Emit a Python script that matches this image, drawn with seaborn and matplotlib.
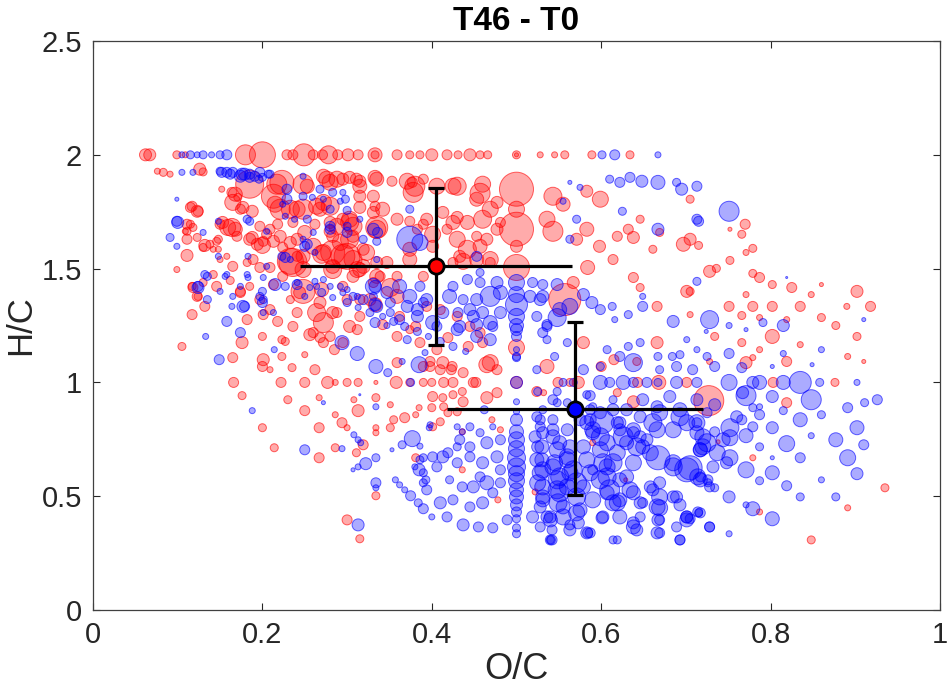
import matplotlib
matplotlib.use("Agg")
import matplotlib.pyplot as plt
import pandas as pd
import seaborn as sns

# (O/C, H/C, peak size)
red_points = [
    # H/C = 2 row
    (0.062, 2.0, 6), (0.067, 2.0, 6), (0.099, 2.0, 4), (0.109, 2.0, 3), (0.180, 2.0, 10), (0.200, 2.0, 13),
    (0.229, 2.0, 5), (0.236, 2.0, 5), (0.249, 2.0, 11), (0.260, 2.0, 5), (0.271, 2.0, 5), (0.278, 2.0, 9),
    (0.289, 2.0, 5), (0.301, 2.0, 6), (0.313, 2.0, 5), (0.333, 2.0, 7), (0.333, 2.0, 4), (0.359, 2.0, 5),
    (0.374, 2.0, 4), (0.386, 2.0, 4), (0.400, 2.0, 6), (0.418, 2.0, 5), (0.431, 2.0, 4), (0.445, 2.0, 6),
    (0.457, 2.0, 4), (0.466, 2.0, 4), (0.500, 2.0, 4), (0.500, 2.0, 2), (0.528, 2.0, 3), (0.545, 2.0, 3),
    (0.557, 2.0, 4), (0.589, 2.0, 4), (0.634, 2.0, 4),
    (0.076, 1.928, 3), (0.083, 1.923, 4), (0.091, 1.915, 3), (0.126, 1.937, 6), (0.130, 1.925, 4),
    # upper band
    (0.185, 1.871, 14), (0.223, 1.879, 12), (0.248, 1.871, 10), (0.276, 1.893, 8), (0.295, 1.893, 6),
    (0.311, 1.893, 6), (0.333, 1.901, 7), (0.353, 1.884, 5), (0.377, 1.879, 5), (0.390, 1.893, 5),
    (0.406, 1.862, 8), (0.430, 1.862, 9), (0.460, 1.871, 8), (0.500, 1.849, 17), (0.457, 1.831, 10),
    (0.380, 1.862, 10), (0.543, 1.818, 9), (0.555, 1.783, 7), (0.599, 1.805, 8), (0.583, 1.840, 6),
    (0.168, 1.827, 7), (0.213, 1.818, 12), (0.253, 1.862, 7), (0.280, 1.879, 8), (0.315, 1.884, 6),
    (0.165, 1.791, 8), (0.174, 1.761, 5), (0.188, 1.752, 6), (0.215, 1.783, 8), (0.221, 1.761, 10),
    (0.248, 1.761, 10), (0.272, 1.791, 8), (0.280, 1.774, 9), (0.303, 1.717, 8), (0.315, 1.769, 6),
    (0.333, 1.774, 5), (0.335, 1.681, 11), (0.359, 1.717, 6), (0.117, 1.774, 5), (0.124, 1.752, 5),
    (0.218, 1.695, 5), (0.236, 1.703, 5), (0.250, 1.659, 7), (0.262, 1.695, 5), (0.280, 1.703, 6),
    (0.307, 1.686, 9), (0.159, 1.681, 8), (0.168, 1.673, 7), (0.150, 1.695, 5),
    (0.115, 1.695, 4), (0.118, 1.681, 4), (0.109, 1.664, 3), (0.123, 1.637, 4), (0.111, 1.629, 5),
    (0.132, 1.602, 6), (0.148, 1.629, 4), (0.142, 1.585, 3), (0.111, 1.558, 6), (0.099, 1.496, 3),
    (0.152, 1.849, 3), (0.164, 1.835, 5), (0.171, 1.813, 4), (0.177, 1.769, 6), (0.217, 1.871, 10),
    (0.233, 1.761, 9), (0.264, 1.774, 8), (0.272, 1.906, 7), (0.288, 1.893, 8), (0.303, 1.901, 6),
    (0.315, 1.862, 7), (0.335, 1.893, 7), (0.315, 1.818, 6), (0.331, 1.818, 6), (0.342, 1.761, 7),
    (0.303, 1.703, 9), (0.288, 1.686, 8), (0.283, 1.642, 6), (0.307, 1.642, 6), (0.323, 1.571, 8),
    (0.300, 1.554, 13), (0.272, 1.571, 8), (0.260, 1.598, 8), (0.236, 1.527, 14), (0.248, 1.496, 8),
    (0.233, 1.615, 6), (0.221, 1.642, 6), (0.241, 1.629, 6), (0.209, 1.673, 5), (0.197, 1.686, 5),
    (0.164, 1.681, 9), (0.153, 1.703, 6), (0.170, 1.642, 5), (0.185, 1.629, 6), (0.194, 1.607, 6),
    (0.201, 1.620, 5), (0.115, 1.769, 5), (0.123, 1.752, 6), (0.111, 1.695, 5), (0.111, 1.664, 4),
    (0.130, 1.593, 4), (0.138, 1.607, 4), (0.146, 1.620, 4), (0.148, 1.585, 3), (0.158, 1.554, 3),
    (0.165, 1.510, 5), (0.182, 1.527, 4), (0.189, 1.540, 5), (0.197, 1.505, 5), (0.209, 1.505, 5),
    (0.118, 1.417, 5), (0.130, 1.439, 4), (0.124, 1.378, 4), (0.174, 1.395, 5), (0.185, 1.422, 4),
    (0.233, 1.364, 4), (0.244, 1.395, 6), (0.268, 1.351, 6), (0.283, 1.307, 6), (0.315, 1.496, 7),
    (0.307, 1.466, 6), (0.335, 1.527, 6), (0.315, 1.364, 5), (0.300, 1.364, 5), (0.283, 1.510, 7),
    (0.224, 1.466, 5), (0.213, 1.430, 5), (0.142, 1.474, 4), (0.150, 1.540, 3),
    (0.460, 1.717, 9), (0.442, 1.703, 7), (0.536, 1.717, 8), (0.543, 1.664, 10), (0.571, 1.629, 6),
    (0.583, 1.673, 7), (0.598, 1.598, 6), (0.619, 1.642, 5), (0.638, 1.637, 6), (0.661, 1.585, 4),
    (0.697, 1.607, 7), (0.669, 1.659, 4), (0.646, 1.717, 4), (0.632, 1.673, 5), (0.584, 1.505, 7),
    (0.614, 1.540, 5), (0.638, 1.461, 5), (0.646, 1.417, 4), (0.701, 1.400, 6), (0.567, 1.439, 6),
    (0.557, 1.364, 16),
    (0.371, 1.884, 8), (0.378, 1.835, 10), (0.425, 1.862, 8), (0.453, 1.805, 7), (0.477, 1.791, 6),
    (0.469, 1.761, 8), (0.481, 1.703, 5), (0.413, 1.747, 6), (0.425, 1.703, 7), (0.394, 1.717, 6),
    (0.383, 1.673, 5), (0.401, 1.651, 8), (0.430, 1.629, 8), (0.442, 1.585, 9), (0.457, 1.598, 7),
    (0.469, 1.540, 8), (0.374, 1.585, 7), (0.433, 1.554, 6),
    (0.500, 1.673, 17), (0.500, 1.505, 13), (0.500, 1.598, 6), (0.500, 1.761, 8),
    (0.374, 1.708, 5), (0.390, 1.695, 5), (0.401, 1.598, 6), (0.418, 1.673, 5), (0.430, 1.725, 6),
    (0.453, 1.642, 5), (0.465, 1.629, 6), (0.477, 1.673, 6), (0.437, 1.532, 8), (0.453, 1.540, 7),
    (0.469, 1.527, 5), (0.425, 1.527, 5), (0.374, 1.540, 7), (0.390, 1.466, 5), (0.347, 1.527, 6),
    (0.359, 1.466, 5), (0.339, 1.466, 5),
    # diagonal band
    (0.188, 1.637, 6), (0.200, 1.602, 8), (0.205, 1.651, 5), (0.213, 1.620, 6), (0.224, 1.593, 5),
    (0.241, 1.554, 5), (0.233, 1.532, 13), (0.248, 1.554, 7), (0.270, 1.563, 9), (0.283, 1.571, 12),
    (0.295, 1.554, 12), (0.307, 1.540, 9), (0.319, 1.510, 7), (0.335, 1.466, 7), (0.292, 1.615, 8),
    (0.319, 1.585, 6), (0.303, 1.629, 9), (0.283, 1.496, 9), (0.312, 1.496, 8), (0.280, 1.664, 6),
    (0.335, 1.673, 9), (0.331, 1.747, 6), (0.295, 1.717, 6), (0.268, 1.761, 7), (0.241, 1.761, 8),
    (0.248, 1.400, 12), (0.270, 1.408, 7), (0.264, 1.307, 9), (0.272, 1.263, 10), (0.241, 1.307, 5),
    (0.236, 1.246, 5), (0.209, 1.320, 5), (0.197, 1.364, 5), (0.174, 1.400, 5), (0.162, 1.448, 4),
    (0.146, 1.422, 5), (0.123, 1.378, 5), (0.117, 1.422, 4), (0.132, 1.334, 5), (0.117, 1.298, 5),
    (0.182, 1.276, 5), (0.201, 1.298, 5), (0.218, 1.268, 5), (0.256, 1.210, 6), (0.288, 1.307, 5),
    (0.303, 1.246, 6), (0.315, 1.290, 5), (0.295, 1.422, 5), (0.331, 1.439, 5), (0.351, 1.417, 9),
    (0.359, 1.378, 7), (0.327, 1.364, 6), (0.333, 1.342, 7),
    (0.394, 1.334, 5), (0.410, 1.320, 5), (0.430, 1.290, 5), (0.445, 1.246, 5), (0.457, 1.219, 5),
    (0.460, 1.175, 5), (0.500, 1.153, 8), (0.469, 1.087, 8), (0.374, 1.232, 4), (0.386, 1.175, 5),
    (0.406, 1.144, 5), (0.413, 1.087, 6), (0.390, 1.070, 5), (0.359, 1.087, 5), (0.342, 1.254, 5),
    (0.359, 1.202, 5), (0.312, 1.232, 5), (0.295, 1.175, 5), (0.280, 1.202, 5),
    (0.362, 1.290, 5), (0.381, 1.246, 5), (0.419, 1.197, 5), (0.443, 1.158, 5),
    # lower left
    (0.105, 1.158, 4), (0.165, 1.109, 5), (0.176, 1.175, 6), (0.200, 1.202, 4), (0.201, 1.100, 6),
    (0.200, 1.070, 5), (0.209, 1.056, 3), (0.223, 1.188, 4), (0.227, 1.180, 4), (0.223, 1.114, 4),
    (0.235, 1.065, 4), (0.250, 1.122, 3), (0.260, 1.219, 5), (0.262, 1.056, 5), (0.268, 1.197, 5),
    (0.272, 1.175, 5), (0.285, 1.144, 5),
    (0.166, 1.0, 5), (0.222, 1.0, 5), (0.250, 1.0, 5), (0.277, 1.0, 6), (0.286, 1.0, 3), (0.300, 1.0, 4),
    (0.313, 1.0, 4), (0.334, 1.0, 2), (0.358, 1.0, 6), (0.374, 1.0, 4), (0.390, 1.0, 4), (0.400, 1.0, 4),
    (0.414, 1.0, 5), (0.425, 1.0, 5), (0.452, 1.0, 5), (0.500, 1.0, 6), (0.573, 1.0, 6), (0.563, 1.0, 4),
    (0.643, 1.0, 5), (0.668, 1.0, 7), (0.701, 1.0, 5), (0.803, 1.0, 5), (0.876, 1.0, 4),
    (0.176, 0.942, 4), (0.230, 0.924, 4), (0.267, 0.933, 3), (0.250, 0.876, 5), (0.286, 0.858, 3),
    (0.294, 0.823, 5), (0.300, 0.801, 3), (0.313, 0.876, 6), (0.308, 0.924, 3), (0.334, 0.933, 4),
    (0.351, 0.902, 3), (0.368, 0.845, 5), (0.381, 0.858, 3), (0.351, 0.801, 4), (0.334, 0.801, 3),
    (0.334, 0.779, 3), (0.200, 0.801, 4), (0.267, 0.801, 5), (0.214, 0.713, 4), (0.286, 0.713, 4),
    (0.267, 0.669, 5), (0.311, 0.691, 4), (0.319, 0.726, 5), (0.381, 0.669, 4), (0.334, 0.502, 4),
    (0.300, 0.396, 5), (0.315, 0.313, 4),
    # around (0.45, 1.0)
    (0.398, 1.070, 5), (0.410, 1.056, 5), (0.424, 1.070, 5), (0.437, 1.043, 5), (0.449, 1.0, 5),
    (0.465, 1.078, 8), (0.477, 1.056, 5), (0.401, 0.938, 5), (0.413, 0.933, 4), (0.425, 0.946, 4),
    (0.437, 0.915, 5), (0.465, 0.933, 6), (0.477, 0.955, 5), (0.430, 0.871, 4), (0.419, 0.867, 4),
    (0.401, 0.805, 4), (0.410, 0.827, 4), (0.436, 0.783, 3), (0.481, 0.792, 3), (0.471, 0.836, 3),
    (0.398, 1.092, 5), (0.423, 1.056, 5), (0.436, 0.960, 4), (0.414, 0.893, 4), (0.400, 0.889, 4),
    (0.385, 0.889, 3), (0.355, 0.836, 4), (0.436, 0.616, 3), (0.478, 0.484, 3),
    # right of 0.5
    (0.536, 1.070, 7), (0.549, 1.0, 5), (0.524, 0.960, 5), (0.579, 1.175, 6), (0.600, 1.070, 5),
    (0.619, 0.955, 4), (0.638, 0.915, 6), (0.666, 1.175, 6), (0.727, 0.920, 15), (0.590, 0.735, 3),
    (0.629, 0.572, 2), (0.522, 0.519, 3), (0.532, 0.955, 3), (0.615, 1.100, 5), (0.642, 1.092, 4),
    (0.666, 1.334, 5),
    # upper right
    (0.705, 1.805, 4), (0.770, 1.695, 5), (0.766, 1.651, 4), (0.752, 1.673, 2), (0.705, 1.629, 6),
    (0.715, 1.602, 4), (0.779, 1.589, 4), (0.771, 1.571, 3), (0.752, 1.536, 4), (0.728, 1.488, 6),
    (0.736, 1.501, 4), (0.779, 1.479, 4), (0.787, 1.461, 5), (0.802, 1.430, 4), (0.771, 1.386, 3),
    (0.825, 1.417, 5), (0.848, 1.386, 3), (0.860, 1.430, 2), (0.902, 1.400, 6), (0.918, 1.334, 5),
    (0.890, 1.334, 3), (0.751, 1.334, 5), (0.779, 1.334, 5), (0.802, 1.334, 5), (0.835, 1.334, 5),
    (0.766, 1.294, 4), (0.787, 1.285, 3), (0.819, 1.276, 3), (0.860, 1.285, 4), (0.877, 1.250, 4),
    (0.902, 1.202, 4), (0.734, 1.202, 4), (0.802, 1.202, 7), (0.705, 1.400, 4), (0.705, 1.298, 3),
    (0.766, 1.175, 4), (0.787, 1.144, 3), (0.835, 1.166, 3), (0.891, 1.114, 3), (0.910, 1.092, 2),
    (0.779, 1.109, 3), (0.771, 1.087, 6), (0.819, 1.092, 5), (0.819, 0.911, 5), (0.728, 1.092, 3),
    (0.779, 0.669, 3), (0.935, 0.537, 4), (0.891, 0.449, 3), (0.787, 0.431, 3), (0.848, 0.308, 4),
    (0.738, 0.739, 2),
]

blue_points = [
    (0.105, 2.0, 3), (0.115, 2.0, 4), (0.123, 2.0, 3), (0.130, 2.0, 4), (0.140, 2.0, 3), (0.150, 2.0, 4),
    (0.158, 2.0, 5), (0.601, 2.0, 4), (0.616, 2.0, 5), (0.667, 2.0, 3),
    (0.105, 1.923, 3), (0.152, 1.923, 5), (0.162, 1.915, 5), (0.174, 1.906, 6), (0.179, 1.915, 6),
    (0.191, 1.906, 5), (0.200, 1.901, 4), (0.209, 1.915, 4), (0.185, 1.901, 5), (0.196, 1.893, 4),
    (0.118, 1.923, 3), (0.150, 1.928, 4), (0.158, 1.923, 5), (0.165, 1.923, 5), (0.176, 1.915, 6),
    (0.185, 1.915, 5), (0.197, 1.923, 5), (0.207, 1.915, 4), (0.229, 1.849, 5), (0.248, 1.906, 3),
    (0.268, 1.849, 4), (0.283, 1.835, 4), (0.253, 1.717, 4), (0.260, 1.659, 3), (0.280, 1.686, 5),
    (0.298, 1.805, 4), (0.300, 1.659, 5), (0.331, 1.673, 6), (0.335, 1.620, 4), (0.335, 1.540, 3),
    (0.331, 1.422, 8), (0.335, 1.334, 6), (0.100, 1.703, 6), (0.130, 1.659, 3), (0.183, 1.554, 3),
    (0.205, 1.664, 3), (0.253, 1.607, 5), (0.227, 1.549, 5), (0.135, 1.466, 4), (0.156, 1.466, 3),
    (0.182, 1.474, 3), (0.201, 1.461, 3), (0.124, 1.417, 6), (0.165, 1.378, 3), (0.197, 1.378, 4),
    (0.200, 1.351, 5), (0.177, 1.334, 6), (0.164, 1.334, 3), (0.227, 1.422, 4), (0.264, 1.422, 3),
    (0.292, 1.422, 3),
    # left side
    (0.099, 1.708, 5), (0.091, 1.637, 4), (0.099, 1.598, 3), (0.099, 1.805, 2), (0.148, 1.708, 3),
    (0.182, 1.717, 4), (0.185, 1.708, 4), (0.227, 1.730, 3), (0.238, 1.717, 3), (0.250, 1.598, 5),
    (0.248, 1.629, 3), (0.262, 1.571, 3), (0.223, 1.554, 4), (0.233, 1.540, 3), (0.205, 1.510, 3),
    (0.215, 1.430, 6), (0.200, 1.400, 4), (0.183, 1.461, 3), (0.174, 1.422, 3), (0.158, 1.474, 3),
    (0.148, 1.554, 3), (0.132, 1.474, 4), (0.124, 1.422, 5), (0.135, 1.364, 4), (0.150, 1.400, 3),
    (0.158, 1.268, 5), (0.174, 1.219, 5), (0.179, 1.334, 5), (0.201, 1.364, 4), (0.201, 1.307, 3),
    (0.213, 1.307, 3), (0.241, 1.430, 5), (0.250, 1.378, 3), (0.262, 1.444, 3), (0.272, 1.452, 3),
    (0.280, 1.422, 3), (0.295, 1.395, 3), (0.307, 1.378, 4), (0.319, 1.364, 5), (0.333, 1.342, 6),
    (0.351, 1.307, 4), (0.362, 1.276, 5), (0.333, 1.263, 5), (0.347, 1.250, 3), (0.333, 1.422, 6),
    (0.347, 1.395, 6), (0.336, 1.659, 5), (0.280, 1.673, 5), (0.300, 1.686, 4), (0.315, 1.717, 3),
    (0.319, 1.629, 4), (0.248, 1.818, 4), (0.229, 1.805, 5), (0.259, 1.813, 3), (0.272, 1.805, 3),
    (0.292, 1.796, 3), (0.300, 1.756, 4), (0.280, 1.761, 4), (0.224, 1.783, 3), (0.295, 1.835, 3),
    (0.374, 1.629, 13), (0.386, 1.615, 8),
    # diagonal string
    (0.241, 1.439, 3), (0.256, 1.417, 3), (0.270, 1.395, 4), (0.283, 1.373, 3), (0.300, 1.351, 4),
    (0.313, 1.329, 3), (0.327, 1.307, 4), (0.342, 1.290, 3), (0.355, 1.268, 4), (0.368, 1.246, 4),
    (0.383, 1.224, 4), (0.396, 1.202, 3), (0.410, 1.180, 4), (0.425, 1.158, 4), (0.440, 1.136, 3),
    (0.300, 1.408, 3), (0.312, 1.378, 3), (0.331, 1.378, 4), (0.351, 1.351, 5), (0.371, 1.334, 6),
    (0.390, 1.351, 5), (0.383, 1.290, 6), (0.401, 1.263, 7), (0.430, 1.232, 6), (0.453, 1.202, 6),
    (0.469, 1.188, 6), (0.449, 1.290, 6), (0.469, 1.263, 7),
    (0.362, 1.422, 7), (0.374, 1.378, 7), (0.386, 1.422, 5), (0.394, 1.364, 6), (0.383, 1.320, 6),
    (0.421, 1.378, 7), (0.437, 1.364, 5), (0.453, 1.364, 6), (0.469, 1.378, 10), (0.481, 1.395, 7),
    (0.413, 1.307, 6), (0.431, 1.307, 5), (0.445, 1.320, 6), (0.460, 1.307, 6), (0.481, 1.307, 6),
    (0.406, 1.246, 5), (0.433, 1.246, 6), (0.453, 1.254, 6), (0.472, 1.246, 5), (0.425, 1.422, 5),
    (0.442, 1.452, 5), (0.457, 1.439, 5), (0.477, 1.439, 6), (0.457, 1.483, 4), (0.453, 1.554, 5),
    (0.374, 1.761, 4), (0.519, 1.439, 5), (0.516, 1.378, 6), (0.531, 1.378, 6), (0.536, 1.246, 5),
    (0.500, 1.439, 8), (0.500, 1.386, 8), (0.500, 1.342, 11), (0.500, 1.290, 8), (0.500, 1.250, 7),
    (0.500, 1.202, 5), (0.500, 1.109, 4), (0.500, 1.144, 3),
    # upper right
    (0.610, 1.893, 4), (0.622, 1.879, 5), (0.634, 1.901, 5), (0.648, 1.884, 6), (0.667, 1.879, 7),
    (0.689, 1.879, 4), (0.695, 1.849, 6), (0.713, 1.862, 5), (0.667, 1.673, 6), (0.625, 1.752, 4),
    (0.713, 1.717, 5), (0.575, 1.857, 3), (0.563, 1.879, 2), (0.571, 1.717, 4), (0.563, 1.629, 4),
    (0.555, 1.796, 3), (0.751, 1.752, 10), (0.715, 1.708, 5),
    (0.649, 1.334, 5), (0.632, 1.298, 4), (0.616, 1.276, 3), (0.599, 1.320, 5), (0.589, 1.351, 6),
    (0.579, 1.386, 6), (0.563, 1.334, 8), (0.551, 1.320, 7), (0.548, 1.285, 9), (0.531, 1.430, 5),
    (0.548, 1.430, 6), (0.528, 1.364, 6), (0.524, 1.290, 5), (0.531, 1.219, 5), (0.536, 1.254, 5),
    (0.685, 1.268, 6), (0.713, 1.444, 4), (0.649, 1.378, 3), (0.613, 1.334, 4), (0.728, 1.276, 9),
    (0.751, 1.250, 3), (0.724, 1.224, 2), (0.791, 1.263, 4), (0.815, 1.250, 6), (0.771, 1.232, 2),
    (0.819, 1.461, 1), (0.910, 1.276, 2),
    # middle left
    (0.133, 1.202, 3), (0.149, 1.100, 5), (0.214, 1.144, 3), (0.188, 0.876, 3), (0.250, 0.704, 5),
    (0.294, 1.175, 7), (0.312, 1.127, 7), (0.334, 1.070, 7), (0.348, 1.043, 4), (0.365, 1.092, 3),
    (0.371, 1.188, 4), (0.385, 1.078, 8), (0.392, 1.131, 3), (0.375, 1.0, 4), (0.334, 0.893, 3),
    (0.272, 0.911, 2), (0.315, 0.946, 1), (0.294, 0.709, 3), (0.308, 0.770, 3), (0.313, 0.748, 3),
    (0.316, 0.735, 3), (0.365, 0.726, 4), (0.377, 0.753, 8), (0.353, 0.704, 2), (0.334, 0.669, 4),
    (0.322, 0.643, 6), (0.313, 0.629, 3), (0.307, 0.616, 2), (0.334, 0.559, 5), (0.334, 0.537, 3),
    (0.313, 0.374, 6), (0.357, 0.572, 3), (0.362, 0.550, 3), (0.368, 0.528, 3), (0.375, 0.502, 5),
    (0.384, 0.471, 4), (0.390, 0.445, 5), (0.390, 0.669, 4), (0.385, 0.616, 6), (0.390, 0.559, 4),
    (0.380, 0.629, 3), (0.397, 0.801, 3),
    (0.462, 0.880, 4), (0.445, 0.805, 4), (0.433, 0.748, 5), (0.419, 0.691, 5), (0.406, 0.629, 5),
    (0.393, 0.572, 4),
    # dense lower block
    (0.524, 0.849, 5), (0.528, 0.805, 5), (0.522, 0.761, 6), (0.530, 0.717, 7), (0.524, 0.660, 7),
    (0.531, 0.616, 8), (0.525, 0.559, 8), (0.531, 0.497, 7), (0.528, 0.453, 6), (0.540, 0.409, 6),
    (0.542, 0.352, 5), (0.542, 0.308, 5),
    (0.500, 0.836, 6), (0.500, 0.783, 7), (0.500, 0.748, 8), (0.500, 0.709, 8), (0.500, 0.669, 9),
    (0.500, 0.629, 9), (0.500, 0.599, 8), (0.500, 0.568, 8), (0.500, 0.528, 7), (0.500, 0.497, 7),
    (0.500, 0.462, 6), (0.500, 0.431, 5), (0.500, 0.401, 4), (0.500, 0.361, 4), (0.500, 0.335, 4),
    (0.545, 0.647, 8), (0.551, 0.585, 9), (0.548, 0.528, 9), (0.549, 0.471, 9), (0.555, 0.409, 8),
    (0.543, 0.792, 6), (0.551, 0.735, 7), (0.560, 0.673, 8), (0.567, 0.616, 9), (0.571, 0.559, 10),
    (0.571, 0.497, 9), (0.575, 0.440, 7), (0.573, 0.383, 6), (0.584, 0.339, 5),
    (0.587, 0.836, 6), (0.590, 0.779, 7), (0.599, 0.704, 8), (0.602, 0.647, 9), (0.607, 0.585, 9),
    (0.610, 0.528, 10), (0.614, 0.471, 8), (0.622, 0.409, 7), (0.638, 0.383, 6), (0.601, 0.405, 6),
    (0.601, 0.827, 12), (0.626, 0.761, 10), (0.642, 0.717, 9), (0.658, 0.691, 8), (0.667, 0.669, 12),
    (0.685, 0.647, 8), (0.701, 0.616, 12), (0.714, 0.585, 8), (0.726, 0.572, 5),
    (0.622, 0.823, 6), (0.638, 0.792, 7), (0.654, 0.748, 6), (0.661, 0.823, 9), (0.669, 0.867, 8),
    (0.666, 0.792, 8), (0.685, 0.792, 8), (0.693, 0.849, 9), (0.713, 0.823, 8), (0.720, 0.761, 8),
    (0.717, 0.704, 7),
    (0.638, 0.647, 8), (0.630, 0.585, 7), (0.638, 0.515, 7), (0.622, 0.484, 7), (0.646, 0.471, 6),
    (0.646, 0.409, 5), (0.658, 0.541, 6), (0.669, 0.559, 6), (0.669, 0.497, 8), (0.669, 0.449, 8),
    (0.667, 0.396, 6), (0.685, 0.497, 6), (0.693, 0.462, 6), (0.701, 0.409, 6), (0.714, 0.431, 5),
    (0.689, 0.365, 5), (0.669, 0.339, 5), (0.693, 0.308, 5), (0.642, 0.352, 6), (0.619, 0.308, 4),
    (0.587, 0.339, 5), (0.563, 0.352, 6), (0.540, 0.308, 4), (0.489, 0.396, 5), (0.472, 0.361, 5),
    (0.455, 0.365, 5), (0.437, 0.374, 6), (0.418, 0.409, 5), (0.410, 0.471, 6), (0.400, 0.409, 3),
    (0.425, 0.484, 5), (0.445, 0.453, 5), (0.460, 0.471, 6), (0.472, 0.515, 5), (0.481, 0.559, 5),
    (0.465, 0.559, 7), (0.449, 0.541, 6), (0.436, 0.541, 5), (0.421, 0.572, 4), (0.413, 0.673, 6),
    (0.401, 0.673, 5), (0.430, 0.647, 5), (0.445, 0.673, 5), (0.460, 0.647, 6), (0.477, 0.673, 6),
    (0.481, 0.616, 5), (0.457, 0.585, 5), (0.445, 0.717, 5), (0.465, 0.735, 6), (0.481, 0.748, 5),
    (0.430, 0.717, 4), (0.457, 0.779, 4), (0.472, 0.805, 3), (0.430, 0.805, 3), (0.386, 0.660, 4),
    (0.390, 0.603, 4), (0.394, 0.528, 5), (0.590, 0.616, 5),
    (0.528, 0.836, 5), (0.531, 0.779, 6), (0.525, 0.717, 6), (0.530, 0.660, 7), (0.528, 0.603, 8),
    (0.531, 0.541, 8), (0.531, 0.484, 7), (0.536, 0.409, 6), (0.543, 0.761, 7), (0.548, 0.704, 8),
    (0.543, 0.629, 8), (0.548, 0.572, 9), (0.551, 0.515, 9), (0.560, 0.792, 6), (0.563, 0.717, 7),
    (0.560, 0.660, 8), (0.563, 0.603, 8), (0.560, 0.541, 8), (0.571, 0.427, 8), (0.583, 0.823, 7),
    (0.590, 0.792, 8), (0.599, 0.761, 9), (0.607, 0.735, 8), (0.579, 0.717, 7), (0.583, 0.660, 8),
    (0.587, 0.603, 8), (0.579, 0.541, 7), (0.599, 0.572, 9), (0.607, 0.629, 8), (0.614, 0.647, 9),
    (0.619, 0.691, 8), (0.630, 0.735, 7), (0.622, 0.792, 6), (0.638, 0.779, 6), (0.649, 0.717, 7),
    (0.646, 0.761, 6), (0.685, 0.629, 9), (0.717, 0.572, 7), (0.728, 0.541, 5), (0.622, 0.572, 7),
    (0.634, 0.528, 8), (0.619, 0.471, 8), (0.607, 0.515, 7), (0.590, 0.484, 8), (0.555, 0.453, 7),
    (0.540, 0.396, 7), (0.602, 0.409, 6), (0.638, 0.365, 7), (0.661, 0.528, 6), (0.666, 0.453, 8),
    (0.669, 0.396, 5), (0.689, 0.497, 6), (0.701, 0.396, 7), (0.681, 0.938, 6), (0.693, 0.880, 7),
    (0.701, 0.823, 8), (0.713, 0.779, 7), (0.725, 0.735, 9), (0.737, 0.691, 8), (0.748, 0.647, 6),
    (0.717, 0.704, 7), (0.732, 0.629, 6), (0.713, 0.924, 6), (0.649, 0.924, 6), (0.666, 0.893, 6),
    (0.646, 0.849, 6), (0.630, 0.880, 6), (0.614, 0.880, 6), (0.599, 0.867, 6), (0.619, 0.823, 6),
    (0.587, 0.880, 5), (0.575, 0.836, 6), (0.543, 0.836, 5), (0.531, 0.880, 4), (0.548, 0.911, 4),
    (0.583, 0.946, 4), (0.519, 0.409, 6), (0.528, 0.365, 5), (0.540, 0.308, 5), (0.563, 0.374, 5),
    (0.583, 0.339, 6), (0.614, 0.308, 4), (0.649, 0.471, 5), (0.666, 0.339, 6), (0.693, 0.308, 5),
    (0.701, 0.409, 6), (0.717, 0.427, 5), (0.728, 0.365, 5),
    # around H/C = 1
    (0.587, 0.942, 5), (0.599, 1.0, 7), (0.610, 1.0, 5), (0.626, 1.0, 7), (0.638, 1.0, 5),
    (0.654, 1.0, 5), (0.667, 1.0, 4), (0.689, 1.0, 6), (0.713, 1.0, 5), (0.638, 1.087, 9),
    (0.622, 1.114, 5), (0.607, 1.144, 4), (0.632, 1.158, 4), (0.646, 1.175, 4), (0.684, 1.114, 4),
    (0.689, 1.070, 5), (0.708, 1.056, 5), (0.693, 1.122, 4), (0.713, 1.144, 3), (0.701, 1.188, 3),
    (0.725, 1.114, 4), (0.669, 1.056, 4), (0.667, 1.114, 4), (0.599, 1.070, 4), (0.579, 1.056, 5),
    (0.567, 1.0, 4), (0.555, 1.0, 4), (0.548, 0.960, 4), (0.543, 0.924, 5), (0.560, 0.911, 4),
    (0.590, 0.893, 4), (0.614, 0.924, 4), (0.524, 1.056, 4), (0.525, 0.960, 4), (0.536, 1.188, 4),
    (0.545, 1.114, 4), (0.560, 1.175, 4), (0.500, 1.114, 4), (0.500, 1.0, 6), (0.500, 0.915, 3),
    (0.500, 0.871, 3), (0.500, 1.232, 6), (0.436, 0.783, 3), (0.398, 0.814, 3), (0.386, 0.720, 3),
    # right side
    (0.751, 1.127, 5), (0.734, 1.070, 5), (0.751, 1.0, 8), (0.766, 1.065, 5), (0.779, 1.0, 6),
    (0.787, 1.0, 7), (0.815, 1.0, 7), (0.835, 1.0, 11), (0.858, 1.0, 4), (0.902, 1.0, 3),
    (0.815, 1.127, 3), (0.860, 1.144, 3), (0.849, 1.078, 2), (0.802, 1.070, 2), (0.771, 0.942, 10),
    (0.802, 0.938, 6), (0.848, 0.924, 10), (0.815, 0.876, 4), (0.787, 0.858, 5), (0.779, 0.889, 4),
    (0.802, 0.801, 6), (0.835, 0.836, 7), (0.860, 0.858, 4), (0.891, 0.889, 5), (0.911, 0.911, 4),
    (0.926, 0.924, 5), (0.902, 0.801, 7), (0.910, 0.726, 5), (0.877, 0.748, 7), (0.848, 0.766, 3),
    (0.819, 0.731, 8), (0.787, 0.717, 4), (0.771, 0.766, 7), (0.752, 0.757, 8), (0.779, 0.805, 5),
    (0.766, 0.836, 5), (0.752, 0.669, 8), (0.771, 0.616, 8), (0.802, 0.603, 7), (0.787, 0.568, 4),
    (0.835, 0.669, 5), (0.802, 0.669, 2), (0.819, 0.546, 5), (0.835, 0.497, 4), (0.860, 0.572, 3),
    (0.891, 0.669, 8), (0.902, 0.599, 6), (0.877, 0.497, 4), (0.751, 0.497, 6), (0.779, 0.445, 7),
    (0.802, 0.401, 7), (0.771, 0.462, 3), (0.728, 0.365, 5), (0.751, 0.335, 3), (0.715, 0.427, 4),
    (0.705, 0.401, 5), (0.734, 0.537, 4), (0.705, 0.625, 12), (0.717, 0.585, 5), (0.726, 0.559, 4),
    (0.734, 0.783, 5), (0.720, 0.717, 8), (0.744, 0.748, 7), (0.760, 0.849, 6), (0.752, 0.801, 9),
    (0.767, 0.955, 6), (0.734, 0.902, 6), (0.725, 0.867, 5), (0.713, 0.823, 5), (0.787, 0.893, 3),
]

# weighted means with standard deviations
red_mean = (0.405, 1.51)
red_err = (0.161, 0.345)
blue_mean = (0.569, 0.885)
blue_err = (0.151, 0.38)

x_ticks = [0, 0.2, 0.4, 0.6, 0.8, 1]
x_tick_labels = ["0", "0.2", "0.4", "0.6", "0.8", "1"]
y_ticks = [0, 0.5, 1, 1.5, 2, 2.5]
y_tick_labels = ["0", "0.5", "1", "1.5", "2", "2.5"]

red_df = pd.DataFrame(red_points, columns=["oc", "hc", "peak"])
blue_df = pd.DataFrame(blue_points, columns=["oc", "hc", "peak"])

sns.set_theme(style="ticks")
plt.rcParams["font.family"] = ["Liberation Sans", "DejaVu Sans"]
text_col = "#262626"

fig = plt.figure(figsize=(9.49, 6.99), dpi=100)
ax = fig.add_axes([0.098, 0.1273, 0.8925, 0.8140])

for df, col in [(red_df, (1, 0, 0)), (blue_df, (0, 0, 1))]:
    sns.scatterplot(data=df, x="oc", y="hc", s=(1.44 * df["peak"]) ** 2,
                    color=(*col, 0.33), edgecolor=(*col, 0.6), linewidth=0.7,
                    legend=False, ax=ax, zorder=2)

for (mx, my), (ex, ey), col in [(red_mean, red_err, "red"), (blue_mean, blue_err, "blue")]:
    ax.errorbar(mx, my, xerr=ex, fmt="none", ecolor="black", elinewidth=2.3, capsize=0, zorder=5)
    ax.errorbar(mx, my, yerr=ey, fmt="none", ecolor="black", elinewidth=2.3,
                capsize=6, capthick=2.3, zorder=5)
    ax.plot(mx, my, "o", mfc=col, mec="black", ms=11, mew=2, zorder=6)

ax.set_xlim(0, 1)
ax.set_ylim(0, 2.5)
ax.set_xticks(x_ticks, x_tick_labels)
ax.set_yticks(y_ticks, y_tick_labels)
ax.tick_params(direction="in", top=True, right=True, length=5, width=0.8,
               labelsize=21, colors=text_col, pad=8)
for sp in ax.spines.values():
    sp.set_color("#404040")
    sp.set_linewidth(0.9)

ax.set_xlabel("O/C", fontsize=26, color=text_col, labelpad=2)
ax.set_ylabel("H/C", fontsize=25, color=text_col, labelpad=3)
ax.set_title("T46 - T0", fontsize=24, fontweight="bold", color="black", pad=8)

fig.savefig("out.png", dpi=100)
